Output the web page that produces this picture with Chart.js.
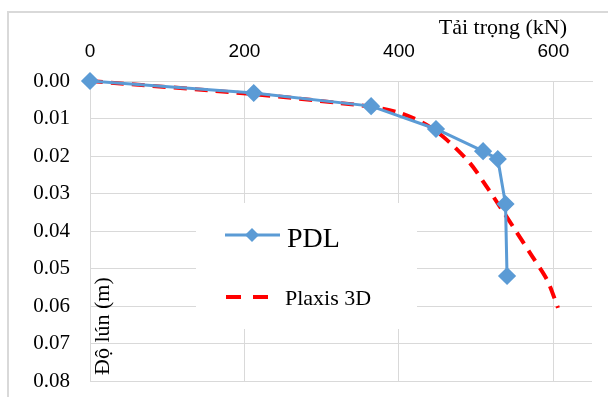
<!DOCTYPE html>
<html>
<head>
<meta charset="utf-8">
<script src="https://cdn.jsdelivr.net/npm/chart.js@4/dist/chart.umd.min.js"></script>
<style>
  html, body { margin: 0; padding: 0; background: #fff; }
  #wrap { width: 608px; height: 397px; position: relative; }
</style>
</head>
<body>
<div id="wrap"><canvas id="myChart"></canvas></div>
<script>
// load (kN) vs settlement (m)
var pdlLoad = [0, 212, 364, 448, 509, 528, 538, 540];
var pdlSettle = [0, 0.0032, 0.0067, 0.0128, 0.0187, 0.0208, 0.0328, 0.052];
var plaxisLoad = [0, 212, 324, 364, 401, 436, 462, 492, 514, 531, 548, 573, 592, 606];
var plaxisSettle = [0, 0.0035, 0.0059, 0.0069, 0.0085, 0.0117, 0.0157, 0.0219, 0.0283, 0.0336, 0.0389, 0.0469, 0.0531, 0.0605];
var xTicks = [0, 200, 400, 600];
var yTicks = [0, 0.01, 0.02, 0.03, 0.04, 0.05, 0.06, 0.07, 0.08];

function pts(xs, ys) {
    return xs.map(function (x, i) { return {x: x, y: ys[i]}; });
}

var blue = '#5B9BD5';
var red = '#FF0000';
var grid = '#d9d9d9';

var extras = {
    id: 'extras',
    beforeDatasetsDraw: function (chart) {
        var ctx = chart.ctx;
        ctx.save();
        // legend box covers grid lines
        ctx.fillStyle = '#fff';
        ctx.fillRect(196, 203, 221, 126);

        // PDL entry
        ctx.strokeStyle = blue;
        ctx.lineWidth = 3;
        ctx.beginPath();
        ctx.moveTo(225, 235);
        ctx.lineTo(280, 235);
        ctx.stroke();
        ctx.fillStyle = blue;
        ctx.beginPath();
        ctx.moveTo(252, 228);
        ctx.lineTo(259, 235);
        ctx.lineTo(252, 242);
        ctx.lineTo(245, 235);
        ctx.closePath();
        ctx.fill();
        ctx.fillStyle = '#000';
        ctx.font = '28px "Liberation Serif"';
        ctx.textBaseline = 'alphabetic';
        ctx.textAlign = 'left';
        ctx.fillText('PDL', 287, 247);

        // Plaxis entry
        ctx.strokeStyle = red;
        ctx.lineWidth = 4;
        ctx.setLineDash([15, 12]);
        ctx.beginPath();
        ctx.moveTo(226, 297);
        ctx.lineTo(270, 297);
        ctx.stroke();
        ctx.setLineDash([]);
        ctx.fillStyle = '#000';
        ctx.font = '22px "Liberation Serif"';
        ctx.fillText('Plaxis 3D', 285, 305);

        // axis titles
        ctx.font = '22px "Liberation Serif"';
        ctx.textAlign = 'right';
        ctx.fillText('Tải trọng (kN)', 567, 34);

        ctx.translate(109, 375);
        ctx.rotate(-Math.PI / 2);
        ctx.textAlign = 'left';
        ctx.fillText('Độ lún (m)', 0, 0);
        ctx.restore();
    },
    afterDraw: function (chart) {
        var ctx = chart.ctx;
        ctx.save();
        ctx.strokeStyle = grid;
        ctx.lineWidth = 2;
        ctx.beginPath();
        ctx.moveTo(8, 397);
        ctx.lineTo(8, 12);
        ctx.lineTo(608, 12);
        ctx.stroke();
        ctx.restore();
    }
};

var ctx = document.getElementById('myChart');
var myChart = new Chart(ctx, {
    type: 'scatter',
    data: {
        datasets: [{
                label: 'PDL',
                data: pts(pdlLoad, pdlSettle),
                showLine: true,
                borderColor: blue,
                backgroundColor: blue,
                borderWidth: 3,
                pointStyle: 'rectRot',
                pointRadius: 7,
                pointHoverRadius: 7,
                clip: false,
                order: 1
            }, {
                label: 'Plaxis 3D',
                data: pts(plaxisLoad, plaxisSettle),
                showLine: true,
                borderColor: red,
                borderWidth: 4,
                borderDash: [13, 8],
                pointRadius: 0,
                tension: 0.3,
                clip: false,
                order: 2
            }
        ]
    },
    options: {
        responsive: true,
        maintainAspectRatio: false,
        animation: false,
        layout: {padding: {left: 0, right: 16, top: 0, bottom: 0}},
        plugins: {
            legend: {display: false},
            tooltip: {enabled: false}
        },
        scales: {
            x: {
                type: 'linear',
                position: 'top',
                min: 0,
                max: 650,
                afterBuildTicks: function (scale) {
                    scale.ticks = xTicks.map(function (v) { return {value: v}; });
                },
                afterFit: function (scale) {
                    scale.height = 81;
                    scale.paddingLeft = 0;
                    scale.paddingRight = 0;
                },
                grid: {color: grid, drawTicks: false},
                border: {color: grid},
                ticks: {
                    padding: 18,
                    color: '#000',
                    font: {family: 'Liberation Sans', size: 19}
                }
            },
            y: {
                type: 'linear',
                reverse: true,
                min: 0,
                max: 0.08,
                afterBuildTicks: function (scale) {
                    scale.ticks = yTicks.map(function (v) { return {value: v}; });
                },
                afterFit: function (scale) {
                    scale.width = 90;
                    scale.paddingTop = 0;
                    scale.paddingBottom = 16;
                },
                grid: {color: grid, drawTicks: false},
                border: {color: grid},
                ticks: {
                    padding: 20,
                    color: '#000',
                    font: {family: 'Liberation Serif', size: 21},
                    callback: function (v) { return Number(v).toFixed(2); }
                }
            }
        }
    },
    plugins: [extras]
});
</script>
</body>
</html>
